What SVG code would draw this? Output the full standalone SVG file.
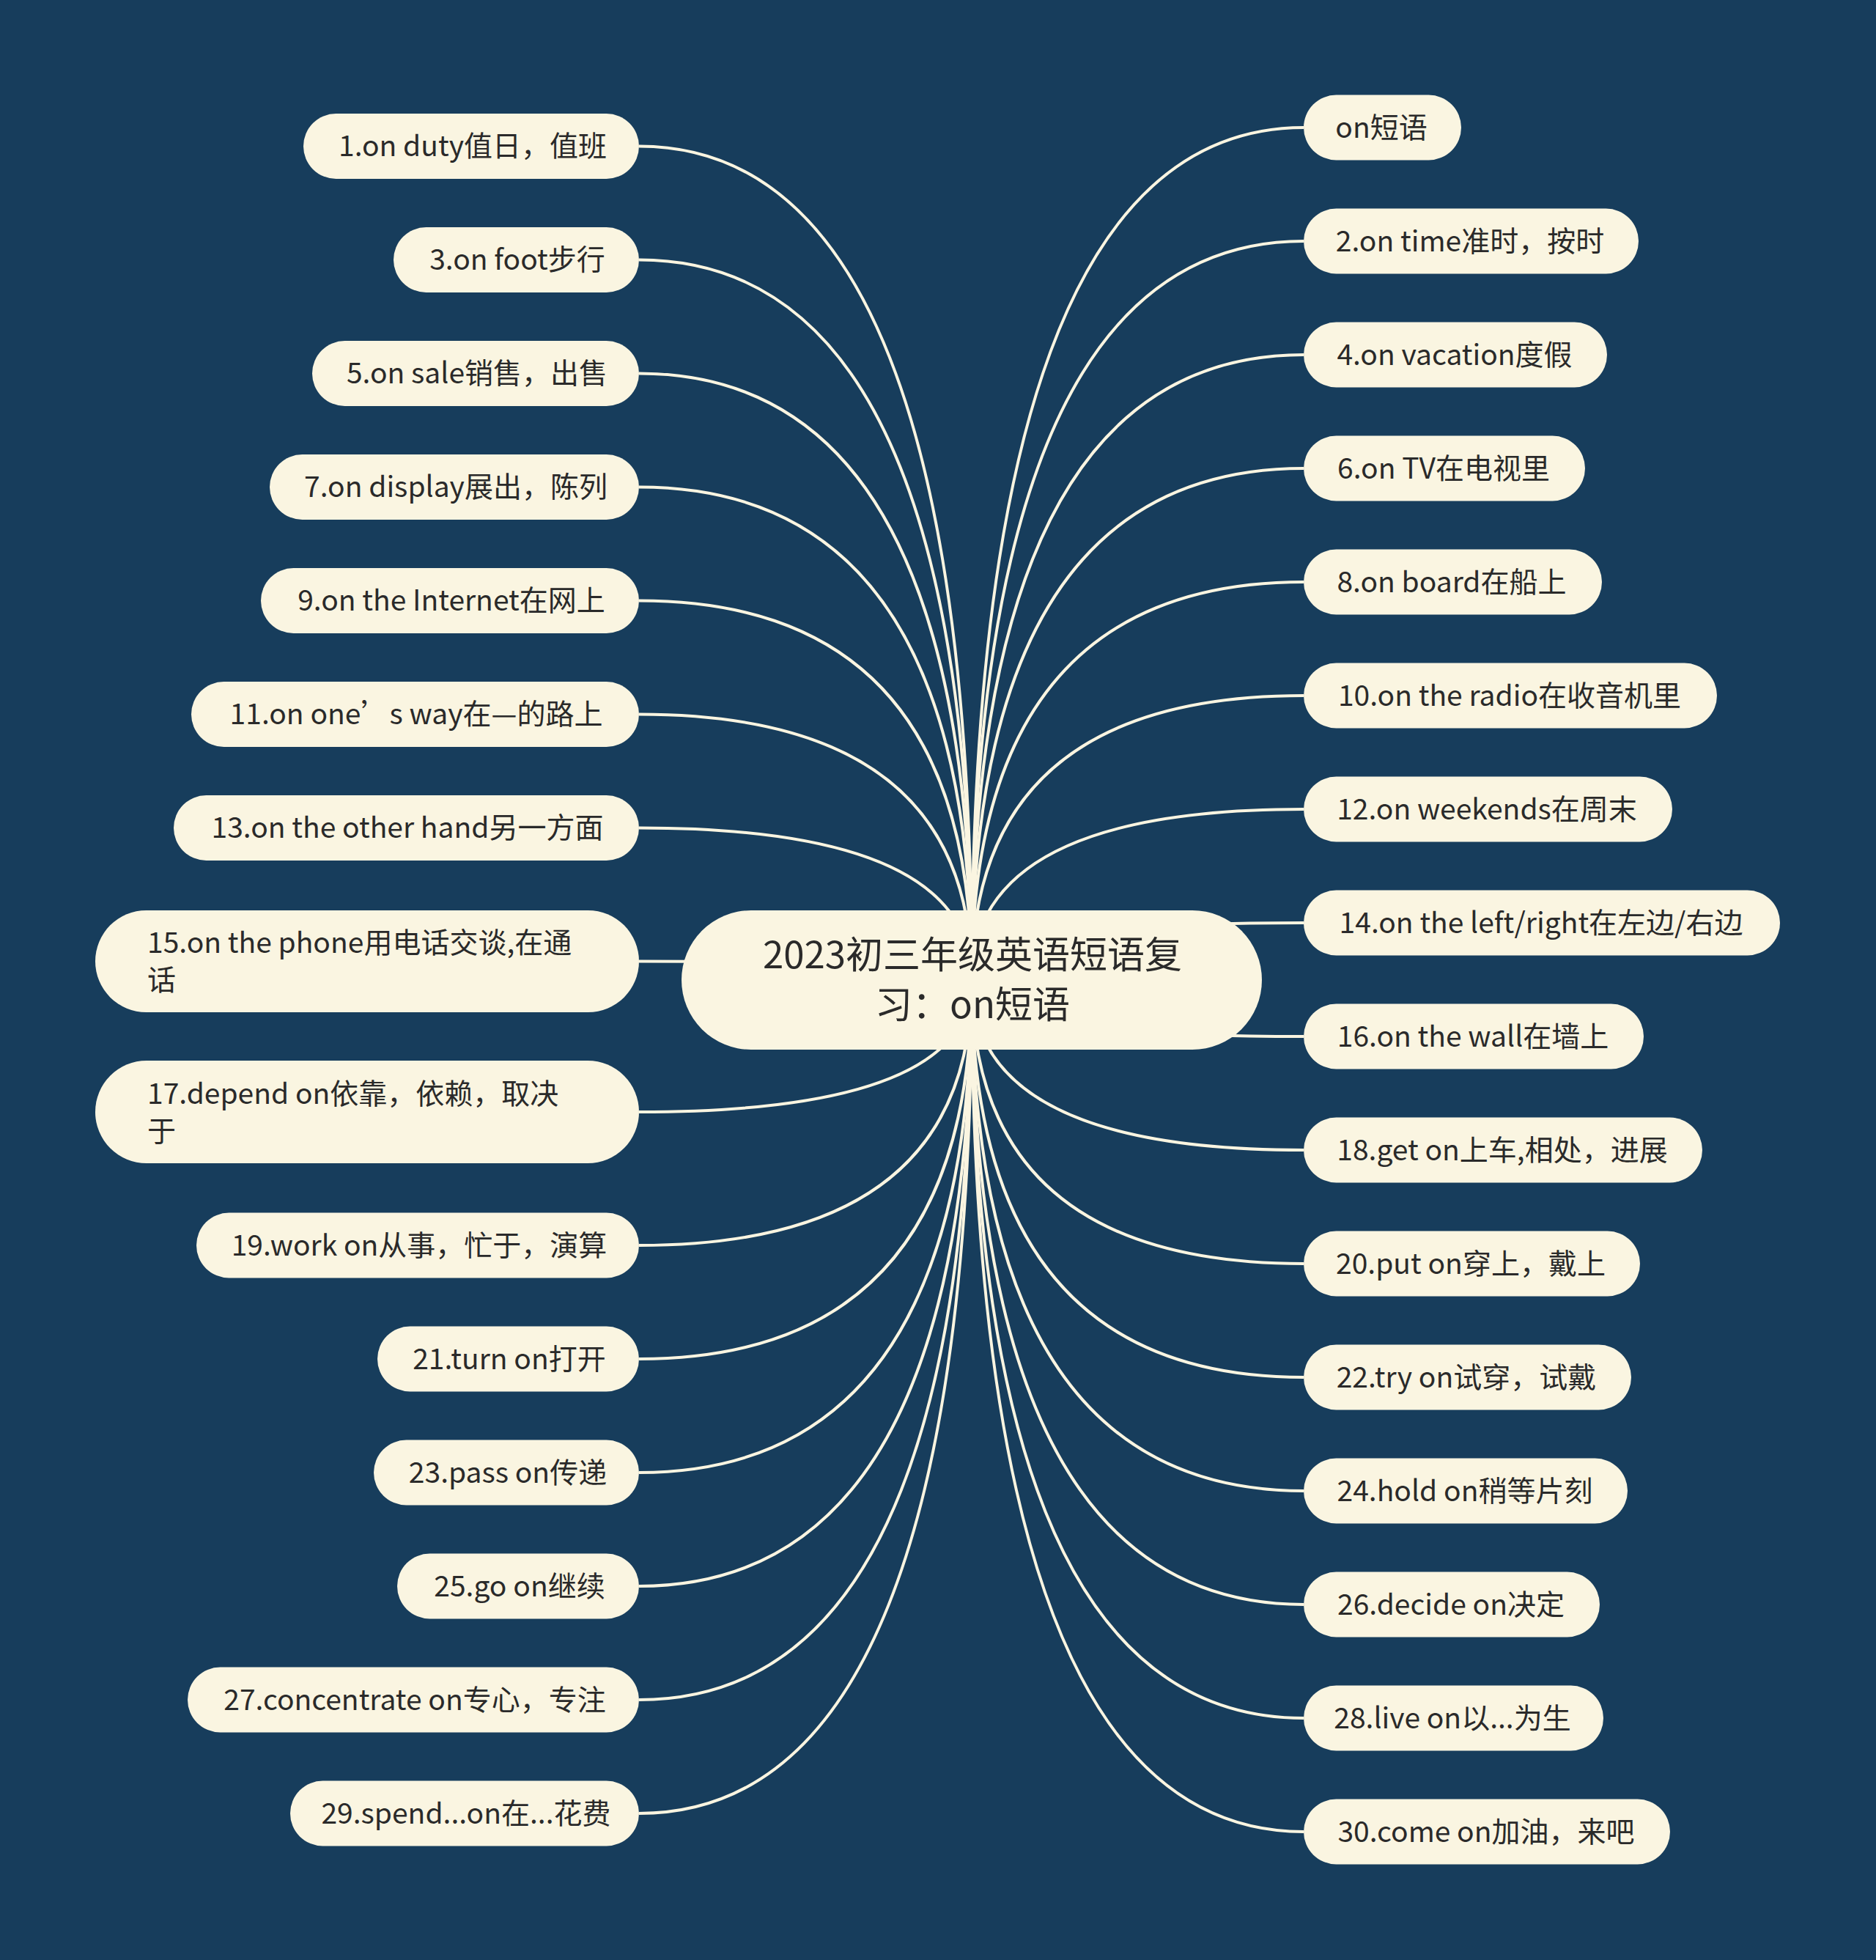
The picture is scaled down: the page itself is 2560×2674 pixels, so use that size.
<svg xmlns="http://www.w3.org/2000/svg" width="2560" height="2674" viewBox="0 0 2560 2674">
<style>
.bg{fill:#173d5c}
.n{fill:#faf5e1}
.t{font-family:"Noto Sans CJK SC","Noto Sans",sans-serif;font-size:39px;fill:#2a2a2a}
.c{font-family:"Noto Sans CJK SC","Noto Sans",sans-serif;font-size:51px;fill:#2a2a2a;text-anchor:middle}
.m{text-anchor:middle}
.e path{fill:none;stroke:#faf5e1;stroke-width:4}
</style>
<rect class="bg" x="0" y="0" width="2560" height="2674"/>
<g id="connectors" class="e">
<path d="M1326 1337 Q1326 199.5 872 199.5"/>
<path d="M1326 1337 Q1326 354.5 872 354.5"/>
<path d="M1326 1337 Q1326 509.5 872 509.5"/>
<path d="M1326 1337 Q1326 664.5 872 664.5"/>
<path d="M1326 1337 Q1326 819.5 872 819.5"/>
<path d="M1326 1337 Q1326 974.5 872 974.5"/>
<path d="M1326 1337 Q1326 1129.5 872 1129.5"/>
<path d="M1326 1337 Q1326 1311.5 872 1311.5"/>
<path d="M1326 1337 Q1326 1517 872 1517"/>
<path d="M1326 1337 Q1326 1699 872 1699"/>
<path d="M1326 1337 Q1326 1854 872 1854"/>
<path d="M1326 1337 Q1326 2009 872 2009"/>
<path d="M1326 1337 Q1326 2164 872 2164"/>
<path d="M1326 1337 Q1326 2319 872 2319"/>
<path d="M1326 1337 Q1326 2474 872 2474"/>
<path d="M1326 1337 Q1326 174 1779 174"/>
<path d="M1326 1337 Q1326 329 1779 329"/>
<path d="M1326 1337 Q1326 484 1779 484"/>
<path d="M1326 1337 Q1326 639 1779 639"/>
<path d="M1326 1337 Q1326 794 1779 794"/>
<path d="M1326 1337 Q1326 949 1779 949"/>
<path d="M1326 1337 Q1326 1104 1779 1104"/>
<path d="M1326 1337 Q1326 1259 1779 1259"/>
<path d="M1326 1337 Q1326 1414 1779 1414"/>
<path d="M1326 1337 Q1326 1569 1779 1569"/>
<path d="M1326 1337 Q1326 1724 1779 1724"/>
<path d="M1326 1337 Q1326 1879 1779 1879"/>
<path d="M1326 1337 Q1326 2034 1779 2034"/>
<path d="M1326 1337 Q1326 2189 1779 2189"/>
<path d="M1326 1337 Q1326 2344 1779 2344"/>
<path d="M1326 1337 Q1326 2499 1779 2499"/>
</g>
<g id="center">
<rect class="n" x="930" y="1242" width="792" height="190" rx="95"/>
<text class="c" x="1327" y="1321">2023初三年级英语短语复</text>
<text class="c" x="1327" y="1389">习：on短语</text>
</g>
<g id="n1"><rect class="n" x="414" y="155" width="458" height="89" rx="44.5"/><text class="t m" x="645" y="213">1.on duty值日，值班</text></g>
<g id="n3"><rect class="n" x="537" y="310" width="335" height="89" rx="44.5"/><text class="t m" x="706" y="368">3.on foot步行</text></g>
<g id="n5"><rect class="n" x="426" y="465" width="446" height="89" rx="44.5"/><text class="t m" x="651" y="523">5.on sale销售，出售</text></g>
<g id="n7"><rect class="n" x="368" y="620" width="504" height="89" rx="44.5"/><text class="t m" x="622" y="678">7.on display展出，陈列</text></g>
<g id="n9"><rect class="n" x="356" y="775" width="516" height="89" rx="44.5"/><text class="t m" x="616" y="833">9.on the Internet在网上</text></g>
<g id="n11"><rect class="n" x="261" y="930" width="611" height="89" rx="44.5"/><text class="t m" x="568" y="988">11.on one’s way在—的路上</text></g>
<g id="n13"><rect class="n" x="237" y="1085" width="635" height="89" rx="44.5"/><text class="t m" x="556" y="1143">13.on the other hand另一方面</text></g>
<g id="n15"><rect class="n" x="130" y="1242" width="742" height="139" rx="69.5"/><text class="t" x="201" y="1300">15.on the phone用电话交谈,在通</text><text class="t" x="201" y="1351">话</text></g>
<g id="n17"><rect class="n" x="130" y="1447" width="742" height="140" rx="70"/><text class="t" x="201" y="1506">17.depend on依靠，依赖，取决</text><text class="t" x="201" y="1557">于</text></g>
<g id="n19"><rect class="n" x="268" y="1654.5" width="604" height="89" rx="44.5"/><text class="t m" x="572" y="1713">19.work on从事，忙于，演算</text></g>
<g id="n21"><rect class="n" x="515" y="1809.5" width="357" height="89" rx="44.5"/><text class="t m" x="695" y="1868">21.turn on打开</text></g>
<g id="n23"><rect class="n" x="510" y="1964.5" width="362" height="89" rx="44.5"/><text class="t m" x="693" y="2023">23.pass on传递</text></g>
<g id="n25"><rect class="n" x="542" y="2119.5" width="330" height="89" rx="44.5"/><text class="t m" x="709" y="2178">25.go on继续</text></g>
<g id="n27"><rect class="n" x="256" y="2274.5" width="616" height="89" rx="44.5"/><text class="t m" x="566" y="2333">27.concentrate on专心，专注</text></g>
<g id="n29"><rect class="n" x="396" y="2429.5" width="476" height="89" rx="44.5"/><text class="t m" x="636" y="2488">29.spend...on在...花费</text></g>
<g id="r0"><rect class="n" x="1779" y="129.5" width="215" height="89" rx="44.5"/><text class="t m" x="1885" y="188">on短语</text></g>
<g id="r2"><rect class="n" x="1779" y="284.5" width="457" height="89" rx="44.5"/><text class="t m" x="2006" y="343">2.on time准时，按时</text></g>
<g id="r4"><rect class="n" x="1779" y="439.5" width="414" height="89" rx="44.5"/><text class="t m" x="1985" y="498">4.on vacation度假</text></g>
<g id="r6"><rect class="n" x="1779" y="594.5" width="384" height="89" rx="44.5"/><text class="t m" x="1970" y="653">6.on TV在电视里</text></g>
<g id="r8"><rect class="n" x="1779" y="749.5" width="407" height="89" rx="44.5"/><text class="t m" x="1981" y="808">8.on board在船上</text></g>
<g id="r10"><rect class="n" x="1779" y="904.5" width="564" height="89" rx="44.5"/><text class="t m" x="2060" y="963">10.on the radio在收音机里</text></g>
<g id="r12"><rect class="n" x="1779" y="1059.5" width="503" height="89" rx="44.5"/><text class="t m" x="2029" y="1118">12.on weekends在周末</text></g>
<g id="r14"><rect class="n" x="1779" y="1214.5" width="650" height="89" rx="44.5"/><text class="t m" x="2103" y="1273">14.on the left/right在左边/右边</text></g>
<g id="r16"><rect class="n" x="1779" y="1369.5" width="464" height="89" rx="44.5"/><text class="t m" x="2010" y="1428">16.on the wall在墙上</text></g>
<g id="r18"><rect class="n" x="1779" y="1524.5" width="544" height="89" rx="44.5"/><text class="t m" x="2050" y="1583">18.get on上车,相处，进展</text></g>
<g id="r20"><rect class="n" x="1779" y="1679.5" width="459" height="89" rx="44.5"/><text class="t m" x="2007" y="1738">20.put on穿上，戴上</text></g>
<g id="r22"><rect class="n" x="1779" y="1834.5" width="447" height="89" rx="44.5"/><text class="t m" x="2001" y="1893">22.try on试穿，试戴</text></g>
<g id="r24"><rect class="n" x="1779" y="1989.5" width="442" height="89" rx="44.5"/><text class="t m" x="1999" y="2048">24.hold on稍等片刻</text></g>
<g id="r26"><rect class="n" x="1779" y="2144.5" width="404" height="89" rx="44.5"/><text class="t m" x="1980" y="2203">26.decide on决定</text></g>
<g id="r28"><rect class="n" x="1779" y="2299.5" width="409" height="89" rx="44.5"/><text class="t m" x="1982" y="2358">28.live on以...为生</text></g>
<g id="r30"><rect class="n" x="1779" y="2454.5" width="500" height="89" rx="44.5"/><text class="t m" x="2028" y="2513">30.come on加油，来吧</text></g>
</svg>
